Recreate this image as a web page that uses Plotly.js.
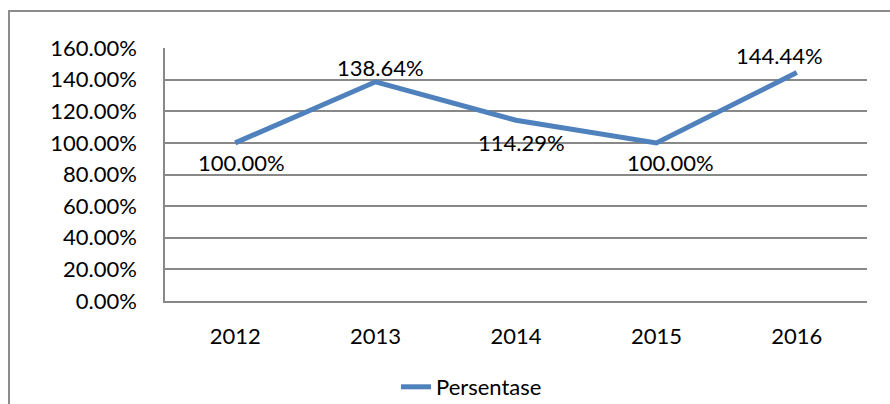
<!DOCTYPE html>
<html>
<head>
<meta charset="utf-8">
<script src="https://cdn.plot.ly/plotly-3.0.1.min.js"></script>
<style>html,body{margin:0;padding:0;background:#fff;}#chart{width:890px;height:404px;}</style>
</head>
<body>
<div id="chart"></div>
<script>
const years = ['2012', '2013', '2014', '2015', '2016'];
const persentase = [100.00, 138.64, 114.29, 100.00, 144.44];
const seriesName = 'Persentase';

const W = 890, H = 404;
const M = {l: 165, r: 23, t: 48, b: 103, autoexpand: false};
const pw = W - M.l - M.r, ph = H - M.t - M.b;
const px = v => (v - M.l) / pw;
const py = v => (H - M.b - v) / ph;

const FONT = 'Lato, "Liberation Sans", sans-serif';
const GRID = '#888888';
const LINE = '#4F81BD';

// label placement style (offsets in px relative to each point)
const labelShift = [[6, -20], [5, 14], [5, -22], [14, -20], [-17, 17]];

const trace = {
  x: years,
  y: persentase,
  type: 'scatter',
  mode: 'lines',
  name: seriesName,
  line: {color: LINE, width: 5},
  hoverinfo: 'skip'
};

const annotations = [];
for (let i = 0; i < years.length; i++) {
  annotations.push({
    x: i, y: persentase[i], xref: 'x', yref: 'y',
    text: persentase[i].toFixed(2) + '%',
    showarrow: false,
    xshift: labelShift[i][0], yshift: labelShift[i][1],
    font: {family: FONT, size: 22, color: '#000000'}
  });
}

const layout = {
  width: W, height: H,
  margin: M,
  paper_bgcolor: '#fff', plot_bgcolor: '#fff',
  font: {family: FONT, size: 22, color: '#000'},
  showlegend: true,
  legend: {
    orientation: 'h', x: px(396), xanchor: 'left', y: py(387), yanchor: 'middle',
    font: {family: FONT, size: 22, color: '#000'},
    bgcolor: 'rgba(0,0,0,0)', borderwidth: 0
  },
  xaxis: {
    type: 'category', range: [-0.5, 4.5],
    showgrid: false, zeroline: false,
    showline: true, linecolor: GRID, linewidth: 1.5,
    ticks: '', ticklabelstandoff: 15,
    tickfont: {family: FONT, size: 22, color: '#000'},
    fixedrange: true
  },
  yaxis: {
    range: [0, 160], dtick: 20, tick0: 0,
    tickformat: '.2f', ticksuffix: '%',
    showgrid: true, gridcolor: GRID, gridwidth: 1.5,
    zeroline: false,
    showline: true, linecolor: GRID, linewidth: 1.5,
    ticks: '', ticklabelstandoff: 22,
    tickfont: {family: FONT, size: 22, color: '#000'},
    fixedrange: true
  },
  annotations: annotations,
  shapes: [{
    type: 'rect', xref: 'paper', yref: 'paper',
    x0: px(9), x1: px(W + 20), y0: py(H + 20), y1: py(11),
    line: {color: '#8c8c8c', width: 2}, fillcolor: 'rgba(0,0,0,0)', layer: 'below'
  }]
};

Plotly.newPlot('chart', [trace], layout, {displayModeBar: false});
</script>
</body>
</html>
